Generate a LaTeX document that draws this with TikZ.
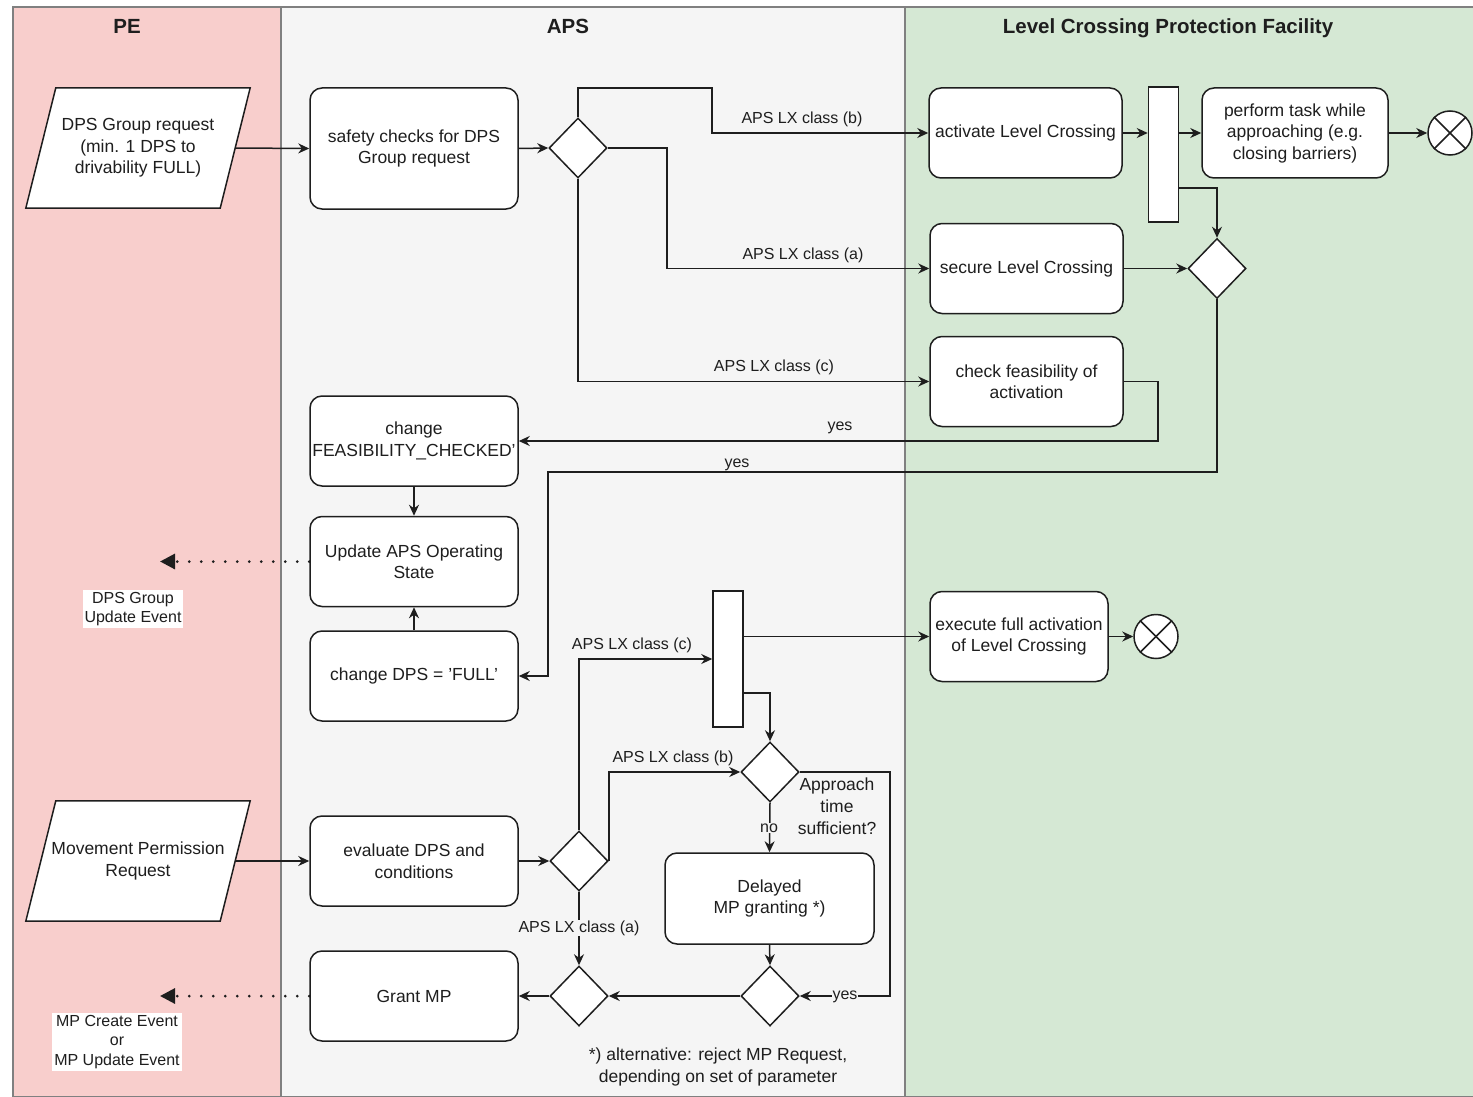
\documentclass[tikz,border=0pt]{standalone}
\usepackage{fontspec}
\setmainfont{Liberation Sans}
\usepackage{xcolor}
\usetikzlibrary{shapes.geometric, arrows.meta, calc, backgrounds}
\definecolor{peRed}{HTML}{F8CECC}
\definecolor{apsGray}{HTML}{F5F5F5}
\definecolor{lxGreen}{HTML}{D5E8D4}
\definecolor{laneLine}{HTML}{808080}
\definecolor{ink}{HTML}{1E1E1E}

\tikzset{
    lane/.style={draw=laneLine, line width=1.2pt},
    lanetitle/.style={font=\fontsize{20.5}{24}\selectfont\bfseries, text=ink},
    task/.style={draw=ink, fill=white, rounded corners=12pt, line width=1.5pt,
        minimum width=208, minimum height=90, inner sep=0pt, align=center,
        font=\fontsize{17.5}{21.5}\selectfont, text=ink},
    inout/.style={minimum width=194, minimum height=120, inner sep=0pt, align=center,
        font=\fontsize{17.5}{21.5}\selectfont, text=ink},
    slantbox/.style={draw=ink, fill=white, line width=1.5pt},
    gate/.style={draw=ink, fill=white, diamond, line width=1.5pt,
        minimum width=58, minimum height=60, inner sep=0pt},
    bar/.style={draw=ink, fill=white, line width=1.5pt,
        minimum width=30, minimum height=135, inner sep=0pt},
    stop/.style={draw=ink, fill=white, circle, line width=1.5pt,
        minimum size=44, inner sep=0pt},
    flow/.style={draw=ink, line width=1.5pt, -{Stealth[length=11pt,width=10pt]}},
    event/.style={draw=ink, line width=3pt, dash pattern=on 0pt off 12pt,
        line cap=round, -{Triangle[length=15pt,width=15pt,line cap=butt]}},
    lbl/.style={font=\fontsize{16}{19.5}\selectfont, text=ink, inner sep=1pt, align=center},
    note/.style={font=\fontsize{17.5}{22}\selectfont, text=ink, inner sep=1pt, align=center}
}

\begin{document}
\begin{tikzpicture}[x=1pt, y=-1pt]
    \useasboundingbox (0,0) rectangle (1473,1097);

    % swimlanes
    \begin{scope}[on background layer]
        \fill[white] (0,0) rectangle (1473,1097);
        \draw[lane, fill=peRed] (13,7) rectangle (281,1097);
        \draw[lane, fill=apsGray] (281,7) rectangle (905,1097);
        \draw[lane, fill=lxGreen] (905,7) rectangle (1480,1097);
    \end{scope}
    \node[lanetitle] (tPE) at (127,26) {PE};
    \node[lanetitle] (tAPS) at (568,26) {APS};
    \node[lanetitle] (tLX) at (1168,28) {Level Crossing Protection Facility};

    % DPS group request
    \node[inout] (dpsReq) at (138,148) {DPS Group request\\(min. 1 DPS to\\drivability FULL)};
    \node[task, minimum height=121] (safety) at (414,148.5) {safety checks for DPS\\Group request};
    \node[gate] (g1) at (578,148) {};

    \node[task, minimum width=193] (activate) at (1025.5,133) {activate Level Crossing};
    \node[bar] (fork1) at (1163.5,154.5) {};
    \node[task, minimum width=186] (perform) at (1295,133) {perform task while\\approaching (e.g.\\closing barriers)};
    \node[stop] (end1) at (1450,133) {};
    \node[task, minimum width=193] (secure) at (1026.5,268.5) {secure Level Crossing};
    \node[gate] (g2) at (1217,268.5) {};
    \node[task, minimum width=193] (check) at (1026.5,381.5) {check feasibility of\\activation};

    \node[task] (chFeas) at (414,441) {change\\FEASIBILITY\_CHECKED'};
    \node[task] (update) at (414,561.5) {Update APS Operating\\State};
    \node[task] (chDps) at (414,676) {change DPS = 'FULL'};
    \coordinate (dpsEvt) at (160,561.5);
    \node[lbl, fill=white, inner sep=2pt] (dpsEvtLbl) at (133,609) {DPS Group\\Update Event};

    % movement permission request
    \node[inout] (mpReq) at (138,861) {Movement Permission\\Request};
    \node[task] (evaluate) at (414,861) {evaluate DPS and\\conditions};
    \node[gate] (g3) at (579,861) {};
    \node[bar, minimum height=136] (fork2) at (728,659) {};
    \node[task, minimum width=178] (execute) at (1019,636.5) {execute full activation\\of Level Crossing};
    \node[stop] (end2) at (1156,636.5) {};
    \node[gate] (g4) at (770,772) {};
    \node[task, minimum width=209, minimum height=91] (delayed) at (769.5,898.5) {Delayed\\MP granting *)};
    \node[gate] (g5) at (770,996) {};
    \node[gate] (g6) at (579,996) {};
    \node[task] (grant) at (414,996) {Grant MP};
    \coordinate (mpEvt) at (160,996);
    \node[lbl, fill=white, inner sep=2pt] (mpEvtLbl) at (117,1042) {MP Create Event\\or\\MP Update Event};

    % parallelogram outlines behind the request texts
    \begin{scope}[on background layer]
        \foreach \r in {dpsReq, mpReq}
            \draw[slantbox] ($(\r.north west)+(15,0)$) -- ($(\r.north east)+(15,0)$)
                -- ($(\r.south east)-(15,0)$) -- ($(\r.south west)-(15,0)$) -- cycle;
    \end{scope}

    % crosses in the end states
    \foreach \e in {end1, end2} {
        \draw[ink, line width=1.5pt] (\e.north west) -- (\e.south east);
        \draw[ink, line width=1.5pt] (\e.north east) -- (\e.south west);
    }

    % upper flow
    \draw[flow] (dpsReq.east) -- (safety.west);
    \draw[flow] (safety.east) -- (g1.west);
    \draw[flow] (g1.north) |- (712,88) |- (activate.west);
    \draw[flow] (g1.east) -| (667,268.5) -- (secure.west);
    \draw[flow] (g1.south) |- (check.west);
    \draw[flow] (activate.east) -- (activate.east -| fork1.west);
    \draw[flow] (fork1.east |- perform.west) -- (perform.west);
    \draw[flow] (perform.east) -- (end1.west);
    \draw[flow] ($(fork1.east)+(0,33.5)$) -| (g2.north);
    \draw[flow] (secure.east) -- (g2.west);
    \draw[flow] (check.east) -| (1158,441) -- (chFeas.east);
    \draw[flow] (g2.south) |- (548,472) |- (chDps.east);
    \draw[flow] (chFeas.south) -- (update.north);
    \draw[flow] (chDps.north) -- (update.south);
    \draw[event] (update.west) -- (dpsEvt);

    \node[lbl] (lb1) at (802,119) {APS LX class (b)};
    \node[lbl] (la1) at (803,255) {APS LX class (a)};
    \node[lbl] (lc1) at (774,367) {APS LX class (c)};
    \node[lbl] (yes1) at (840,428) {yes};
    \node[lbl] (yes2) at (737,465) {yes};

    % lower flow
    \draw[flow] (mpReq.east) -- (evaluate.west);
    \draw[flow] (evaluate.east) -- (g3.west);
    \draw[flow] (g3.north) |- (fork2.west);
    \draw[flow] (g3.east) |- (g4.west);
    \draw[flow] (fork2.east |- execute.west) -- (execute.west);
    \draw[flow] (execute.east) -- (end2.west);
    \draw[flow] ($(fork2.east)+(0,34)$) -| (g4.north);
    \draw[flow] (g4.south) -- (delayed.north);
    \draw[flow] (g4.east) -| (890,996) -- (g5.east);
    \draw[flow] (delayed.south) -- (g5.north);
    \draw[flow] (g5.west) -- (g6.east);
    \draw[flow] (g3.south) -- (g6.north);
    \draw[flow] (g6.west) -- (grant.east);
    \draw[event] (grant.west) -- (mpEvt);

    \node[lbl] (lc2) at (632,645) {APS LX class (c)};
    \node[lbl] (lb2) at (673,758) {APS LX class (b)};
    \node[lbl, fill=apsGray] (la2) at (579,928) {APS LX class (a)};
    \node[lbl, fill=apsGray] (no1) at (769,828) {no};
    \node[lbl, fill=apsGray] (yes3) at (845,997) {yes};
    \node[note] (approach) at (837,806) {Approach\\time\\sufficient?};
    \node[note] (footnote) at (718,1067) {*) alternative: reject MP Request,\\depending on set of parameter};
\end{tikzpicture}
\end{document}
